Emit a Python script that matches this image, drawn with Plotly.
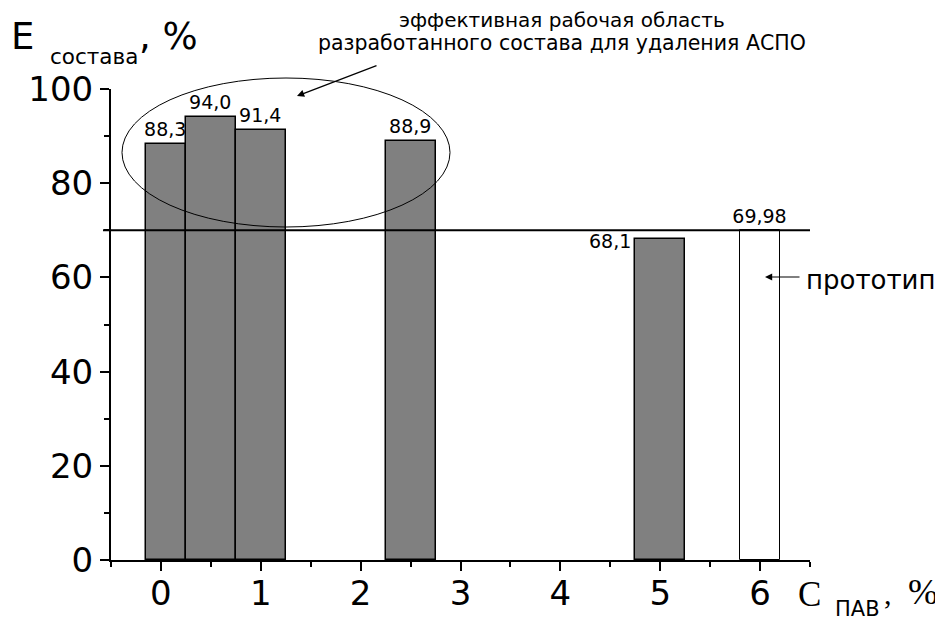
import plotly.graph_objects as go

# concentrations of surfactant (C ПАВ, %) and efficiency (E состава, %)
conc = [0.05, 0.5, 1.0, 2.5, 5.0]
eff = [88.3, 94.0, 91.4, 88.9, 68.1]
bar_w = [0.4, 0.5, 0.5, 0.5, 0.5]

proto_conc = [6.0]
proto_eff = [69.98]
proto_w = [0.4]

proto_level = 70

note_lines = ["эффективная рабочая область",
              "разработанного состава для удаления АСПО"]
proto_text = "прототип"

x_ticks = [0, 1, 2, 3, 4, 5, 6]
y_ticks = [0, 20, 40, 60, 80, 100]


def lbl(v):
    return str(v).replace(".", ",")


# the page puts the figure 8px from the top-left corner, so the figure is
# made 8px smaller and every pixel position is shifted by that amount
OFF = 8
W, H = 943 - OFF, 620 - OFF
# plot area in window pixels: x 111..810, y 89..560
L, R, T, B = 111, 810, 89, 560


def px(x):
    return (x - L) / (R - L)


def py(y):
    return (B - y) / (B - T)


SANS = "DejaVu Sans, Arial, sans-serif"
TIMES = "Times New Roman, Liberation Serif, serif"

fig = go.Figure()

labels = [lbl(v) for v in eff]
labels[4] = ""  # 68,1 is placed to the left of its bar
fig.add_trace(go.Bar(
    x=conc, y=eff, width=bar_w,
    marker=dict(color="#808080", line=dict(color="black", width=1.5)),
    text=labels, textposition="outside", constraintext="none",
    textfont=dict(family=SANS, size=19, color="black"),
    cliponaxis=False, showlegend=False,
))
fig.add_trace(go.Bar(
    x=proto_conc, y=proto_eff, width=proto_w,
    marker=dict(color="white", line=dict(color="black", width=1)),
    text=[lbl(v) for v in proto_eff], textposition="outside", constraintext="none",
    textfont=dict(family=SANS, size=19, color="black"),
    cliponaxis=False, showlegend=False,
))

# prototype level line
fig.add_shape(type="line", xref="paper", yref="y",
              x0=px(103), x1=1.0, y0=proto_level, y1=proto_level,
              line=dict(color="black", width=2))

# ellipse around the effective region
fig.add_shape(type="circle", xref="paper", yref="paper",
              x0=px(122), x1=px(450), y0=py(227), y1=py(78),
              line=dict(color="black", width=1))

anns = [
    dict(x=conc[4] - bar_w[4] / 2, y=eff[4], xref="x", yref="y",
         text=lbl(eff[4]), xanchor="right", yanchor="middle", xshift=-2, yshift=-2,
         font=dict(family=SANS, size=19)),
    dict(x=px(562), y=py(20.5), xref="paper", yref="paper", text=note_lines[0],
         xanchor="center", yanchor="middle", borderpad=0,
         font=dict(family=SANS, size=20)),
    dict(x=px(562), y=py(43), xref="paper", yref="paper", text=note_lines[1],
         xanchor="center", yanchor="middle", borderpad=0,
         font=dict(family=SANS, size=20.5)),
    dict(x=px(297), y=py(96), xref="paper", yref="paper", text="",
         showarrow=True, ax=81, ay=-31, arrowhead=2, arrowsize=1.2, arrowwidth=1.2),
    dict(x=px(765), y=py(277), xref="paper", yref="paper", text="",
         showarrow=True, ax=36, ay=0, arrowhead=2, arrowsize=1.2, arrowwidth=1.2),
    dict(x=px(804), y=py(280), xref="paper", yref="paper", text=proto_text,
         xanchor="left", yanchor="middle", font=dict(family=SANS, size=26)),
    # y axis title
    dict(x=px(9), y=py(36), xref="paper", yref="paper", text="E",
         xanchor="left", yanchor="middle", font=dict(family=SANS, size=37)),
    dict(x=px(48), y=py(56), xref="paper", yref="paper", text="состава",
         xanchor="left", yanchor="middle", font=dict(family=SANS, size=21.5)),
    dict(x=px(137), y=py(36), xref="paper", yref="paper", text=", %",
         xanchor="left", yanchor="middle", font=dict(family=SANS, size=37)),
    # x axis title
    dict(x=px(796), y=py(594), xref="paper", yref="paper", text="C",
         xanchor="left", yanchor="middle", font=dict(family=TIMES, size=35)),
    dict(x=px(834), y=py(609), xref="paper", yref="paper", text="ПАВ",
         xanchor="left", yanchor="middle", borderpad=0,
         font=dict(family=SANS, size=21)),
    dict(x=px(882), y=py(593), xref="paper", yref="paper", text=",",
         xanchor="left", yanchor="middle", font=dict(family=TIMES, size=30)),
    dict(x=px(906), y=py(592), xref="paper", yref="paper", text="%",
         xanchor="left", yanchor="middle", font=dict(family=TIMES, size=36)),
]
for a in anns:
    a.setdefault("showarrow", False)
    a.setdefault("font", {})
    a["font"].setdefault("color", "black")
    a["arrowcolor"] = "black"
    fig.add_annotation(**a)

fig.update_layout(
    width=W, height=H,
    margin=dict(l=L - OFF, r=943 - R, t=T - OFF, b=620 - B, autoexpand=False),
    plot_bgcolor="white", paper_bgcolor="white",
    barmode="overlay", bargap=0,
    font=dict(family=SANS, color="black"),
    xaxis=dict(range=[-0.5, 6.5], tickvals=x_ticks, showgrid=False, zeroline=False,
               automargin=False, ticklabelstandoff=-7,
               showline=True, linecolor="black", linewidth=2,
               ticks="outside", ticklen=9, tickwidth=2, tickcolor="black",
               minor=dict(dtick=0.5, tick0=-0.5, ticks="outside", ticklen=5,
                          tickwidth=2, tickcolor="black"),
               tickfont=dict(family=SANS, size=34)),
    yaxis=dict(range=[0, 100], tickvals=y_ticks, showgrid=False, zeroline=False,
               automargin=False,
               showline=True, linecolor="black", linewidth=2,
               ticks="outside", ticklen=9, tickwidth=2, tickcolor="black",
               minor=dict(dtick=10, tick0=0, ticks="outside", ticklen=5,
                          tickwidth=2, tickcolor="black"),
               tickfont=dict(family=SANS, size=34)),
)

fig.write_html("out.html")
